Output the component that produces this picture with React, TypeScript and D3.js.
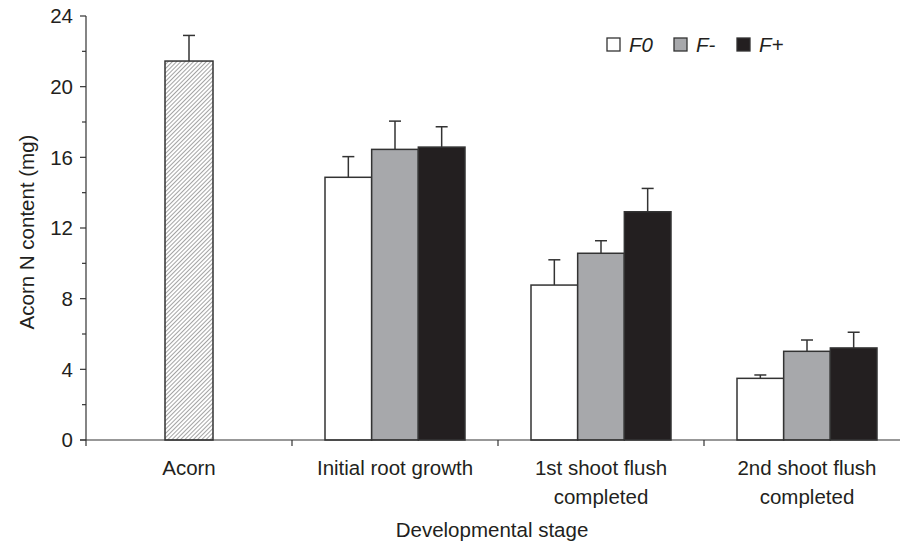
import React from "react";
import * as d3 from "d3";

const categories = ["Acorn", "Initial root growth", "1st shoot flush completed", "2nd shoot flush completed"];
const categoryLines = [["Acorn"], ["Initial root growth"], ["1st shoot flush", "completed"], ["2nd shoot flush", "completed"]];
const series = ["F0", "F-", "F+"];
const acornValue = 21.45;
const acornErr = 22.9;
const stageCats = ["Initial root growth", "1st shoot flush completed", "2nd shoot flush completed"];
const f0Values = [14.87, 8.77, 3.49];
const f0Err = [16.04, 10.2, 3.68];
const fMinusValues = [16.45, 10.57, 5.02];
const fMinusErr = [18.05, 11.28, 5.66];
const fPlusValues = [16.58, 12.92, 5.21];
const fPlusErr = [17.73, 14.24, 6.1];
const yTicks = [0, 4, 8, 12, 16, 20, 24];
const yMinorTicks = [2, 6, 10, 14, 18, 22];

const colors: Record<string, string> = { F0: "#ffffff", "F-": "#a7a8ab", "F+": "#231f20" };
const FONT = "'Liberation Sans', Arial, sans-serif";
const FS = 20.5;

export default function App() {
  const W = 900, H = 546;
  const x = d3.scaleBand<string>().domain(categories).range([86, 910]).paddingInner(0).paddingOuter(0);
  const y = d3.scaleLinear().domain([0, 24]).range([440, 16]);
  const inner = d3.scaleBand<string>().domain(series).range([-70, 70]);
  const vals: Record<string, number[]> = { F0: f0Values, "F-": fMinusValues, "F+": fPlusValues };
  const errs: Record<string, number[]> = { F0: f0Err, "F-": fMinusErr, "F+": fPlusErr };
  const cx = (c: string) => (x(c) as number) + x.bandwidth() / 2;
  const stroke = "#333";
  const textFill = "#231f20";

  return (
    <svg width={W} height={H} style={{ position: "absolute", left: 0, top: 0, background: "#fff" }} fontFamily={FONT}>
      <defs>
        <pattern id="hatch" patternUnits="userSpaceOnUse" width="3" height="3" patternTransform="rotate(45)">
          <rect width="3" height="3" fill="#ffffff" />
          <line x1="0" y1="0" x2="0" y2="3" stroke="#7d7d7d" strokeWidth="1.4" />
        </pattern>
      </defs>
      {/* Acorn bar */}
      {(() => {
        const c = cx("Acorn");
        const bw = 48;
        return (
          <g>
            <line x1={c} x2={c} y1={y(acornValue)} y2={y(acornErr)} stroke={stroke} strokeWidth={1.5} />
            <line x1={c - 6} x2={c + 6} y1={y(acornErr)} y2={y(acornErr)} stroke={stroke} strokeWidth={1.5} />
            <rect x={c - bw / 2} y={y(acornValue)} width={bw} height={y(0) - y(acornValue)} fill="url(#hatch)" stroke={stroke} strokeWidth={1.5} />
          </g>
        );
      })()}
      {stageCats.map((cat, i) => {
        const c = cx(cat);
        return (
          <g key={cat}>
            {series.map((s) => {
              const bx = c + (inner(s) as number);
              const bw = inner.bandwidth();
              const v = vals[s][i];
              const e = errs[s][i];
              const mid = bx + bw / 2;
              return (
                <g key={s}>
                  <line x1={mid} x2={mid} y1={y(v)} y2={y(e)} stroke={stroke} strokeWidth={1.5} />
                  <line x1={mid - 6} x2={mid + 6} y1={y(e)} y2={y(e)} stroke={stroke} strokeWidth={1.5} />
                  <rect x={bx} y={y(v)} width={bw} height={y(0) - y(v)} fill={colors[s]} stroke={stroke} strokeWidth={1.5} />
                </g>
              );
            })}
          </g>
        );
      })}
      {/* Y axis */}
      <line x1={86} x2={86} y1={y(24)} y2={y(0)} stroke={stroke} strokeWidth={1.2} />
      {yTicks.map((t) => (
        <g key={t}>
          <line x1={80} x2={86} y1={y(t)} y2={y(t)} stroke={stroke} strokeWidth={1.2} />
          <text x={73} y={y(t)} dy="0.36em" textAnchor="end" fontSize={FS} fill={textFill}>{t}</text>
        </g>
      ))}
      {yMinorTicks.map((t) => (
        <line key={t} x1={82} x2={86} y1={y(t)} y2={y(t)} stroke={stroke} strokeWidth={1.2} />
      ))}
      {/* X axis */}
      <line x1={80} x2={900} y1={y(0)} y2={y(0)} stroke={stroke} strokeWidth={1.2} />
      {categories.map((c) => (
        <line key={c} x1={x(c) as number} x2={x(c) as number} y1={y(0)} y2={y(0) + 6} stroke={stroke} strokeWidth={1.2} />
      ))}
      {categories.map((c, i) => (
        <text key={c} x={cx(c)} y={475} textAnchor="middle" fontSize={FS} fill={textFill}>
          {categoryLines[i].map((l, j) => (
            <tspan key={j} x={cx(c)} dy={j === 0 ? 0 : 29}>{l}</tspan>
          ))}
        </text>
      ))}
      <text x={492} y={537} textAnchor="middle" fontSize={FS} fill={textFill}>Developmental stage</text>
      <text transform={`translate(34,232) rotate(-90)`} textAnchor="middle" fontSize={FS} fill={textFill}>Acorn N content (mg)</text>
      {/* Legend */}
      {series.map((s, i) => {
        const lx = [607, 674, 737][i];
        return (
          <g key={s}>
            <rect x={lx} y={38} width={13} height={13} fill={colors[s]} stroke={stroke} strokeWidth={1.3} />
            <text x={lx + 22} y={45} dy="0.36em" fontSize={FS} fontStyle="italic" fill={textFill}>{s}</text>
          </g>
        );
      })}
    </svg>
  );
}
